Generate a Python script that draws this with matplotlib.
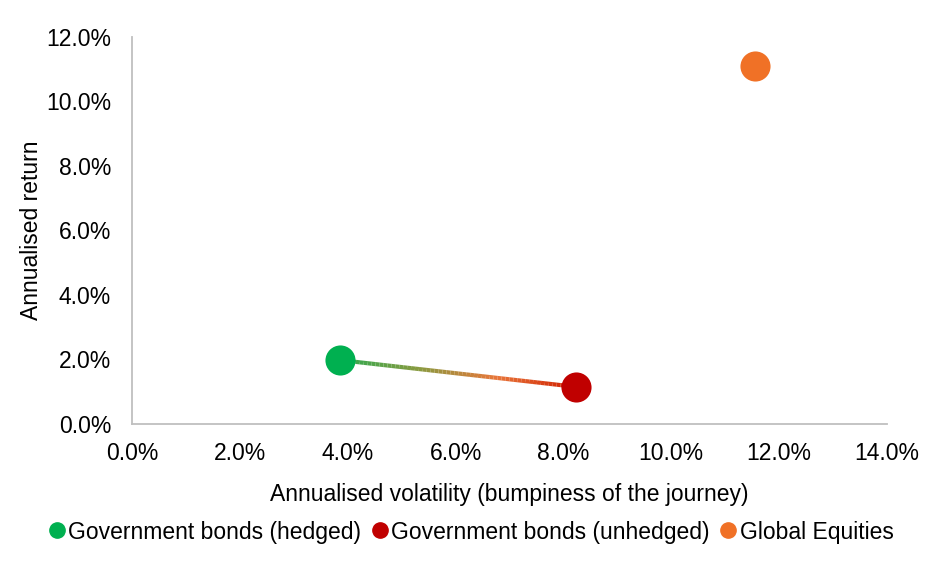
import matplotlib
matplotlib.use("Agg")
import matplotlib.pyplot as plt
import numpy as np
from matplotlib.collections import LineCollection
from matplotlib.lines import Line2D
from matplotlib.ticker import FuncFormatter
import matplotlib.colors as mcolors

plt.rcParams['font.family'] = ['Liberation Sans', 'DejaVu Sans']

series = ["Government bonds (hedged)", "Government bonds (unhedged)", "Global Equities"]
volatility = [3.86, 8.24, 11.56]
returns = [1.98, 1.15, 11.10]
colors = ["#00B050", "#C00000", "#F07126"]

FS = 16.5
fig = plt.figure(figsize=(9.39, 5.62), dpi=100)
ax = fig.add_axes([0.1406, 0.2456, 0.804, 0.6886])

# gradient connecting line between hedged and unhedged
n = 60
xs = np.linspace(volatility[0], volatility[1], n + 1)
ys = np.linspace(returns[0], returns[1], n + 1)
segs = [[(xs[i], ys[i]), (xs[i + 1], ys[i + 1])] for i in range(n)]
cmap = mcolors.LinearSegmentedColormap.from_list("g", ["#2EAA50", "#8A9A40", "#E8763A", "#D02000"])
lc = LineCollection(segs, colors=[cmap(i / (n - 1)) for i in range(n)], linewidth=3, zorder=2)
ax.add_collection(lc)

for x, y, c in zip(volatility, returns, colors):
    ax.scatter([x], [y], s=470, color=c, zorder=3, linewidths=0)

ax.set_xlim(0, 14)
ax.set_ylim(0, 12)
ax.set_xticks(np.arange(0, 14.01, 2))
ax.set_yticks(np.arange(0, 12.01, 2))
fmt = FuncFormatter(lambda v, p: f"{v:.1f}%")
ax.xaxis.set_major_formatter(fmt)
ax.yaxis.set_major_formatter(fmt)
ax.tick_params(length=0, labelsize=FS, colors="#000000")
ax.tick_params(axis='x', pad=13)
ax.tick_params(axis='y', pad=15)
for s in ["top", "right"]:
    ax.spines[s].set_visible(False)
for s in ["left", "bottom"]:
    ax.spines[s].set_color("#BFBFBF")
    ax.spines[s].set_linewidth(1.3)

ax.set_xlabel("Annualised volatility (bumpiness of the journey)", fontsize=FS, labelpad=13)
ax.set_ylabel("Annualised return", fontsize=FS, labelpad=2)

handles = [Line2D([0], [0], marker='o', linestyle='none', markersize=11, color=c) for c in colors]
fig.legend(handles, series, loc='center', bbox_to_anchor=(0.5, 1 - 532 / 562), ncol=3,
           frameon=False, fontsize=FS, handletextpad=0.0, columnspacing=0.3, handlelength=1.0)

fig.savefig("out.png", dpi=100)
